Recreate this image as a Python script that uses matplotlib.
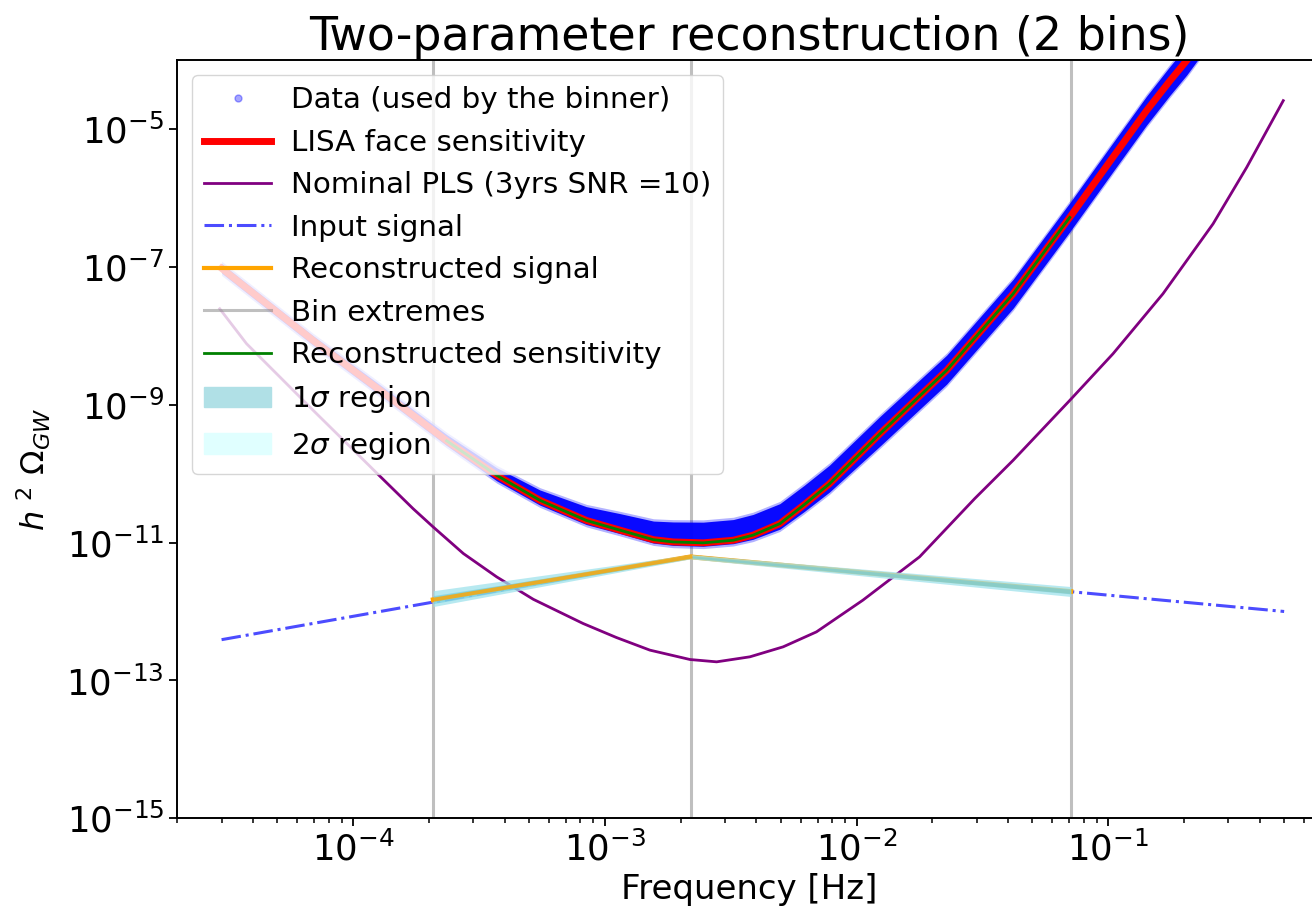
import numpy as np
from matplotlib import pyplot as plt
from matplotlib.lines import Line2D
from matplotlib.patches import Patch
from matplotlib.ticker import FixedLocator, NullLocator

# -------------- values --------------

# LISA sensitivity curve (h^2 Omega_GW vs frequency in Hz)
sens_f = [3e-5, 6.93e-5, 1.28e-4, 2.35e-4, 3.72e-4, 5.52e-4, 8.45e-4, 1.15e-3,
          1.56e-3, 1.87e-3, 2.46e-3, 3.24e-3, 3.88e-3, 4.96e-3, 6.2e-3,
          7.8e-3, 1.24e-2, 2.28e-2, 4.19e-2, 7.03e-2, 0.1045, 0.142, 0.176,
          0.205, 0.3]
sens = [9.5e-8, 8.55e-9, 1.61e-9, 3.0e-10, 9.44e-11, 4.1e-11, 2.09e-11,
        1.51e-11, 1.10e-11, 1.02e-11, 9.9e-12, 1.08e-11, 1.28e-11, 1.88e-11,
        3.55e-11, 7.1e-11, 3.8e-10, 3.14e-9, 4.06e-8, 5.2e-7, 3.9e-6, 1.84e-5,
        5.0e-5, 9.8e-5, 6.5e-4]

# spread of the data points around the curve (decades above / below)
data_up_dex = [0.07, 0.07, 0.08, 0.09, 0.11, 0.15, 0.20, 0.24, 0.27, 0.29,
               0.30, 0.30, 0.30, 0.29, 0.28, 0.27, 0.25, 0.22, 0.21, 0.21,
               0.21, 0.21, 0.21, 0.21, 0.21]
data_down_dex = [0.07, 0.07, 0.07, 0.07, 0.08, 0.07, 0.06, 0.05, 0.05, 0.05,
                 0.05, 0.05, 0.06, 0.08, 0.10, 0.12, 0.18, 0.20, 0.21, 0.21,
                 0.21, 0.21, 0.21, 0.21, 0.21]

# nominal power law sensitivity
pls_f = [2.95e-5, 3.77e-5, 5.12e-5, 6.93e-5, 9.42e-5, 1.28e-4, 1.73e-4,
         2.08e-4, 2.74e-4, 3.72e-4, 5.2e-4, 8.19e-4, 1.11e-3, 1.51e-3,
         2.18e-3, 2.78e-3, 3.77e-3, 5.11e-3, 6.93e-3, 1.06e-2, 1.78e-2,
         2.95e-2, 4.19e-2, 7.03e-2, 0.1045, 0.165, 0.261, 0.355, 0.496]
pls = [2.46e-8, 7.66e-9, 2.51e-9, 8.3e-10, 2.75e-10, 9.1e-11, 3.1e-11,
       1.68e-11, 6.93e-12, 3.17e-12, 1.5e-12, 6.7e-13, 4.2e-13, 2.75e-13,
       2.01e-13, 1.86e-13, 2.2e-13, 3.07e-13, 5.06e-13, 1.46e-12, 6.2e-12,
       4.35e-11, 1.56e-10, 1.15e-9, 5.48e-9, 4.06e-8, 4.2e-7, 2.77e-6, 2.57e-5]

# injected broken power law
input_f = [3e-5, 2.19e-3, 0.5]
input_sig = [3.9e-13, 6.3e-12, 1.0e-12]

# bins and reconstruction
bin_edges = [2.08e-4, 2.19e-3, 7.1e-2]
rec_sig = [1.48e-12, 6.2e-12, 1.95e-12]
one_sig_lo = [1.30e-12, 6.0e-12, 1.80e-12]
one_sig_hi = [1.70e-12, 6.45e-12, 2.10e-12]
two_sig_lo = [1.18e-12, 5.8e-12, 1.65e-12]
two_sig_hi = [2.00e-12, 6.7e-12, 2.30e-12]

# -------------- plot --------------
sens_f = np.array(sens_f)
sens = np.array(sens)
data_hi = sens * 10 ** np.array(data_up_dex)
data_lo = sens / 10 ** np.array(data_down_dex)

fig = plt.figure(figsize=(13.12, 9.14), dpi=100)
ax = fig.add_axes([0.1351, 0.1047, 0.8717, 0.8297])

for e in bin_edges:
    ax.axvline(e, color='grey', alpha=0.5, lw=2.2, zorder=1)

# the data points are a dense cloud: draw it as a band
ax.fill_between(sens_f, data_lo / 1.08, data_hi * 1.08, color='blue',
                alpha=0.3, lw=0, zorder=1.2)
ax.fill_between(sens_f, data_lo, data_hi, color='blue', alpha=0.95, lw=0,
                zorder=1.3)

ax.plot(sens_f, sens, color='red', lw=5, zorder=2)
inside = (sens_f >= bin_edges[0]) & (sens_f <= bin_edges[-1])
ax.plot(sens_f[inside], sens[inside], color='green', lw=2, zorder=2.1)

ax.plot(pls_f, pls, color='purple', lw=2, zorder=2)
ax.plot(input_f, input_sig, color='blue', alpha=0.7, lw=2.2, ls='-.', zorder=2)

ax.plot(bin_edges, rec_sig, color='orange', lw=3.5, zorder=2.5)
ax.fill_between(bin_edges, two_sig_lo, two_sig_hi, color='#9fe2ec',
                alpha=0.75, lw=0, zorder=3)
ax.fill_between(bin_edges, one_sig_lo, one_sig_hi, color='#5fc8dd',
                alpha=0.5, lw=0, zorder=3.1)
# first bin: the reconstruction shows through the wide posterior
ax.plot(bin_edges[:2], rec_sig[:2], color='orange', lw=2.8, alpha=0.8,
        zorder=3.2)

ax.set_xscale('log')
ax.set_yscale('log')
ax.set_xlim(2e-5, 0.7)
ax.set_ylim(1e-15, 1e-4)
ax.yaxis.set_major_locator(FixedLocator([1e-15, 1e-13, 1e-11, 1e-9, 1e-7, 1e-5]))
ax.yaxis.set_minor_locator(NullLocator())

ax.set_title("Two-parameter reconstruction (2 bins)", fontsize=33)
ax.set_xlabel("Frequency [Hz]", fontsize=24.5)
ax.set_ylabel(r"$h\ ^2\ \Omega_{GW}$", fontsize=23)
ax.yaxis.set_label_coords(-0.109, 0.46)
ax.tick_params(axis='both', which='major', labelsize=25.5, length=6, width=1.3)
ax.tick_params(axis='x', which='minor', length=3.5, width=1.1)
for s in ax.spines.values():
    s.set_linewidth(1.4)

handles = [
    Line2D([], [], ls='', marker='o', ms=5, color='blue', alpha=0.35),
    Line2D([], [], color='red', lw=5),
    Line2D([], [], color='purple', lw=2),
    Line2D([], [], color='blue', alpha=0.7, lw=2.2, ls='-.'),
    Line2D([], [], color='orange', lw=3),
    Line2D([], [], color='grey', alpha=0.5, lw=2.2),
    Line2D([], [], color='green', lw=2),
    Patch(color='powderblue'),
    Patch(color='lightcyan'),
]
labels = ['Data (used by the binner)', 'LISA face sensitivity',
          'Nominal PLS (3yrs SNR =10)', 'Input signal', 'Reconstructed signal',
          'Bin extremes', 'Reconstructed sensitivity', r'1$\sigma$ region',
          r'2$\sigma$ region']
ax.legend(handles, labels, loc='upper left', fontsize=21.2, framealpha=0.8,
          labelspacing=0.49, handlelength=2.3, handletextpad=0.65)

fig.savefig('out.png', dpi=100)
